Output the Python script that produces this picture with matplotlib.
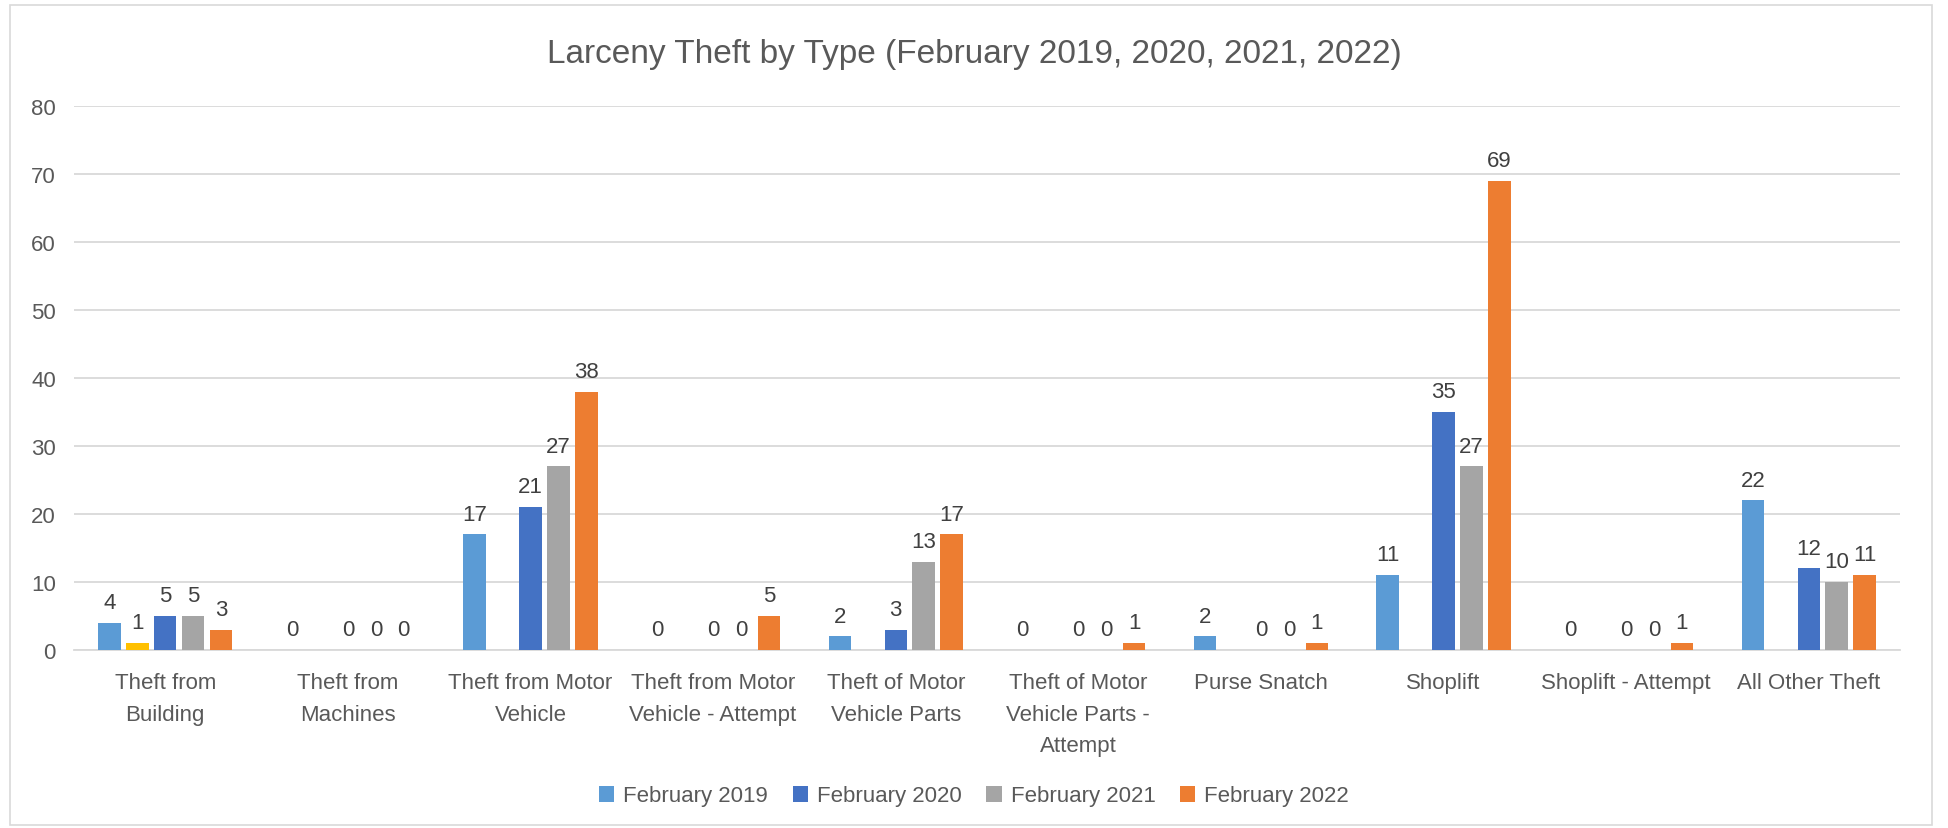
import numpy as np
import matplotlib.pyplot as plt
from matplotlib.patches import Rectangle

categories = ['Theft from\nBuilding', 'Theft from\nMachines', 'Theft from Motor\nVehicle',
              'Theft from Motor\nVehicle - Attempt', 'Theft of Motor\nVehicle Parts',
              'Theft of Motor\nVehicle Parts -\nAttempt', 'Purse Snatch', 'Shoplift',
              'Shoplift - Attempt', 'All Other Theft']

feb2019 = [4, 0, 17, 0, 2, 0, 2, 11, 0, 22]
extra = [1, None, None, None, None, None, None, None, None, None]  # unnamed yellow series
feb2020 = [5, 0, 21, 0, 3, 0, 0, 35, 0, 12]
feb2021 = [5, 0, 27, 0, 13, 0, 0, 27, 0, 10]
feb2022 = [3, 0, 38, 5, 17, 1, 1, 69, 1, 11]

series = [('February 2019', feb2019, '#5B9BD5'),
          (None, extra, '#FFC000'),
          ('February 2020', feb2020, '#4472C4'),
          ('February 2021', feb2021, '#A5A5A5'),
          ('February 2022', feb2022, '#ED7D31')]

plt.rcParams['font.family'] = ['Liberation Sans', 'DejaVu Sans']

fig = plt.figure(figsize=(19.48, 8.29), dpi=100)
ax = fig.add_axes([74/1948, (829-651)/829, (1900-74)/1948, (651-107)/829])

fig.patches.append(Rectangle((10/1948, 3/829), 1922/1948, 820/829, transform=fig.transFigure,
                             fill=False, edgecolor='#D9D9D9', linewidth=1.2))

x = np.arange(len(categories))
step = 0.153
width = 0.122
for i, (name, vals, col) in enumerate(series):
    pos = x + (i - 2) * step
    for p, v in zip(pos, vals):
        if v is None:
            continue
        ax.bar(p, v, width, color=col, label=name if p == pos[0] and name else None, zorder=3)
        ax.annotate(str(v), (p, v), xytext=(0, 7), textcoords='offset points',
                    ha='center', va='bottom', fontsize=16, color='#404040')

ax.set_xlim(-0.5, len(categories) - 0.5)
ax.set_ylim(0, 80)
ax.set_yticks(range(0, 81, 10))
ax.yaxis.grid(True, color='#D9D9D9', linewidth=1.3, zorder=0)
ax.set_axisbelow(True)
for s in ['top', 'right', 'left']:
    ax.spines[s].set_visible(False)
ax.spines['bottom'].set_color('#D9D9D9')
ax.spines['bottom'].set_linewidth(1.3)
ax.tick_params(axis='both', length=0, labelsize=16, colors='#595959')
ax.tick_params(axis='y', pad=13)
ax.tick_params(axis='x', pad=16)
ax.set_xticks(x)
ax.set_xticklabels(categories, linespacing=1.65)

fig.text(0.5, 1 - 54/829, 'Larceny Theft by Type (February 2019, 2020, 2021, 2022)',
         ha='center', va='center', fontsize=24, color='#595959')

handles, labels = ax.get_legend_handles_labels()
fig.legend(handles, labels, loc='center', bbox_to_anchor=(0.5, 1 - 797/829), ncol=4,
           frameon=False, fontsize=16, handlelength=0.7, handleheight=0.7,
           handletextpad=0.4, columnspacing=1.1, labelcolor='#595959')

fig.savefig('out.png', dpi=100)
